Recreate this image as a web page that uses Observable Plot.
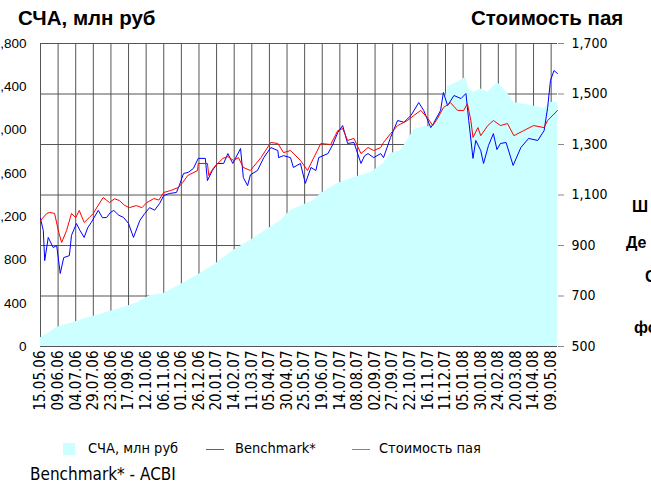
<!DOCTYPE html>
<html><head><meta charset="utf-8">
<script src="https://cdn.jsdelivr.net/npm/d3@7"></script>
<script src="https://cdn.jsdelivr.net/npm/@observablehq/plot@0.6"></script>
<style>
body{margin:0;background:#fff;}
#wrap{position:relative;width:651px;height:485px;overflow:hidden;font-family:"Liberation Sans",Arial,sans-serif;background:#fff;}
#wrap svg{position:absolute;left:0;top:0;}
.t{position:absolute;white-space:nowrap;line-height:1;color:#000;}
.b{font-weight:bold;}
.c{font-family:"DejaVu Sans Condensed","DejaVu Sans",sans-serif;}
</style></head><body><div id="wrap"></div>
<script>
// ---- data ----
const navDates = ["2006-05-15","2006-05-28","2006-06-07","2006-06-25","2006-07-19","2006-08-12","2006-09-04","2006-09-28","2006-10-17","2006-11-06","2006-11-28","2006-12-23","2007-01-16","2007-01-30","2007-02-17","2007-03-09","2007-04-21","2007-05-05","2007-06-07","2007-06-17","2007-07-11","2007-08-03","2007-08-27","2007-09-14","2007-09-24","2007-10-08","2007-10-18","2007-10-27","2007-11-10","2007-11-20","2007-11-30","2007-12-08","2007-12-14","2007-12-28","2008-01-09","2008-01-13","2008-01-20","2008-01-30","2008-02-09","2008-02-23","2008-03-08","2008-03-17","2008-04-10","2008-04-29","2008-05-08","2008-05-18"];
const navValues = [80,130,175,210,260,305,350,400,470,490,565,655,750,820,905,980,1165,1257,1350,1413,1506,1562,1608,1690,1783,1811,1903,2000,2030,2030,2140,2208,2400,2440,2490,2380,2350,2380,2350,2440,2340,2254,2227,2200,2254,2260];

const benchDates = ["2006-05-15","2006-05-19","2006-05-21","2006-05-26","2006-06-02","2006-06-07","2006-06-12","2006-06-17","2006-06-25","2006-06-28","2006-07-05","2006-07-10","2006-07-16","2006-07-21","2006-07-26","2006-08-05","2006-08-11","2006-08-17","2006-08-22","2006-08-27","2006-09-03","2006-09-10","2006-09-17","2006-09-24","2006-10-03","2006-10-10","2006-10-17","2006-10-24","2006-10-31","2006-11-06","2006-11-14","2006-11-24","2006-11-28","2006-12-04","2006-12-11","2006-12-18","2006-12-25","2007-01-04","2007-01-07","2007-01-14","2007-01-21","2007-01-30","2007-02-05","2007-02-12","2007-02-23","2007-02-27","2007-03-05","2007-03-09","2007-03-19","2007-03-28","2007-04-07","2007-04-17","2007-04-18","2007-04-25","2007-05-05","2007-05-09","2007-05-19","2007-05-26","2007-06-03","2007-06-10","2007-06-14","2007-06-27","2007-07-04","2007-07-11","2007-07-18","2007-07-25","2007-08-03","2007-08-13","2007-08-18","2007-08-23","2007-08-31","2007-09-10","2007-09-14","2007-09-24","2007-10-04","2007-10-13","2007-10-23","2007-11-03","2007-11-10","2007-11-20","2007-11-24","2007-12-04","2007-12-08","2007-12-14","2007-12-23","2008-01-02","2008-01-09","2008-01-13","2008-01-19","2008-01-23","2008-01-30","2008-02-03","2008-02-10","2008-02-17","2008-02-22","2008-02-27","2008-03-06","2008-03-16","2008-03-27","2008-04-07","2008-04-20","2008-04-29","2008-05-04","2008-05-08","2008-05-13","2008-05-18"];
const benchValues = [1007,959,840,932,892,900,789,852,860,940,987,960,932,970,991,1039,1010,1011,1030,1039,1020,1011,987,932,999,1027,1050,1040,1066,1098,1106,1110,1137,1185,1190,1205,1245,1245,1157,1197,1225,1225,1264,1225,1284,1169,1137,1180,1197,1248,1288,1276,1248,1256,1248,1209,1225,1146,1209,1197,1248,1264,1300,1347,1375,1304,1308,1225,1255,1264,1248,1264,1248,1328,1395,1388,1415,1466,1435,1367,1383,1435,1506,1454,1494,1482,1502,1395,1245,1316,1276,1225,1296,1343,1280,1304,1308,1217,1288,1324,1316,1355,1446,1553,1593,1581];

const paiDates = ["2006-05-15","2006-05-24","2006-05-28","2006-06-04","2006-06-10","2006-06-14","2006-06-21","2006-06-28","2006-07-04","2006-07-09","2006-07-16","2006-07-23","2006-07-29","2006-08-05","2006-08-12","2006-08-21","2006-08-28","2006-09-04","2006-09-11","2006-09-18","2006-09-28","2006-10-06","2006-10-13","2006-10-23","2006-10-30","2006-11-06","2006-11-16","2006-11-27","2006-12-03","2006-12-10","2006-12-24","2006-12-25","2007-01-07","2007-01-09","2007-01-16","2007-01-29","2007-02-05","2007-02-13","2007-02-20","2007-02-27","2007-03-09","2007-03-24","2007-04-07","2007-04-17","2007-04-25","2007-05-05","2007-05-19","2007-05-29","2007-06-07","2007-06-17","2007-07-01","2007-07-11","2007-07-18","2007-07-25","2007-08-03","2007-08-13","2007-08-23","2007-08-31","2007-09-10","2007-09-14","2007-09-24","2007-10-04","2007-10-18","2007-10-27","2007-11-06","2007-11-16","2007-11-23","2007-11-30","2007-12-08","2007-12-18","2007-12-28","2008-01-06","2008-01-11","2008-01-16","2008-01-19","2008-01-26","2008-01-30","2008-02-09","2008-02-17","2008-02-27","2008-03-08","2008-03-17","2008-03-31","2008-04-14","2008-04-29","2008-05-04","2008-05-18"];
const paiValues = [999,1027,1031,1027,951,912,959,1027,1010,1039,991,1010,1027,1060,1090,1070,1085,1078,1060,1050,1058,1050,1070,1086,1080,1110,1118,1130,1150,1177,1197,1225,1225,1177,1209,1245,1252,1237,1248,1209,1197,1248,1308,1304,1268,1276,1237,1197,1248,1304,1300,1355,1363,1316,1324,1264,1288,1276,1288,1308,1343,1375,1395,1415,1435,1403,1375,1405,1446,1466,1435,1435,1462,1395,1328,1367,1335,1375,1395,1375,1383,1335,1355,1375,1367,1395,1435];

const rightTicks = [500,700,900,1100,1300,1500,1700];
const leftTicks = [0,400,800,1200,1600,2000,2400,2800];
const xStart = "2006-05-15", xEnd = "2008-05-18";

// ---- build ----
const parse = d3.utcParse("%Y-%m-%d");
const toP = v => 500 + v * 1200 / 2800;
const nav = navDates.map((d,i)=>({date:parse(d), value:navValues[i]}));
const bench = benchDates.map((d,i)=>({date:parse(d), value:benchValues[i]}));
const pai = paiDates.map((d,i)=>({date:parse(d), value:paiValues[i]}));
const xTicks = d3.range(30).map(i => d3.utcDay.offset(parse(xStart), 25*i));
const fmt = d3.format(",");
const cond = '"DejaVu Sans Condensed","DejaVu Sans",sans-serif';

const chart = Plot.plot({
  width:651, height:420, marginLeft:40, marginRight:94, marginTop:43, marginBottom:74,
  x:{type:"utc", domain:[parse(xStart), parse(xEnd)]},
  y:{domain:[500,1700]},
  style:{background:"transparent", overflow:"visible"},
  marks:[
    Plot.gridY(rightTicks,{stroke:"#555", strokeOpacity:1}),
    Plot.gridX(xTicks,{stroke:"#555", strokeOpacity:1}),
    Plot.areaY(nav,{x:"date", y1:500, y2:d=>toP(d.value), fill:"#ccffff"}),
    Plot.line(bench,{x:"date", y:"value", stroke:"#0000ff", strokeWidth:1}),
    Plot.line(pai,{x:"date", y:"value", stroke:"#ff0000", strokeWidth:1}),
    Plot.axisY(rightTicks,{anchor:"right", tickSize:6, tickPadding:8, stroke:"#888", tickFormat:fmt, fontSize:14, fontFamily:cond, label:null}),
    Plot.axisY(leftTicks.map(toP),{anchor:"left", tickSize:0, tickPadding:14, tickFormat:d=>fmt(Math.round((d-500)*2800/1200)), fontSize:13.5, fontFamily:"Liberation Sans, Arial, sans-serif", label:null}),
    Plot.axisX(xTicks,{tickRotate:-90, tickSize:0, tickPadding:4, tickFormat:d3.utcFormat("%d.%m.%y"), fontSize:15, fontFamily:cond, label:null})
  ]
});
const wrap = document.getElementById("wrap");
wrap.appendChild(chart);

function addText(txt, left, top, size, cls){
  const el = document.createElement("div");
  el.className = "t " + (cls||"");
  el.textContent = txt;
  el.style.left = left+"px"; el.style.top = top+"px"; el.style.fontSize = size+"px";
  wrap.appendChild(el); return el;
}
function addBox(left, top, w, h, color){
  const el = document.createElement("div");
  el.style.cssText = `position:absolute;left:${left}px;top:${top}px;width:${w}px;height:${h}px;background:${color}`;
  wrap.appendChild(el);
}
addText("СЧА, млн руб", 18, 8, 20.5, "b");
addText("Стоимость пая", 471, 8, 20.5, "b");
addText("Ш", 632, 199, 16, "b");
addText("Де", 626, 235, 16, "b");
addText("С", 645, 269, 16, "b");
addText("фо", 634, 320, 16, "b");
addBox(63, 443, 12, 12, "#ccffff");
addText("СЧА, млн руб", 88, 441, 14.5, "c");
addBox(206, 449, 18, 1, "#5050ff");
addText("Benchmark*", 235, 441, 14.5, "c");
addBox(352, 449, 18, 1, "#ff5050");
addText("Стоимость пая", 379, 441, 14.5, "c");
addText("Benchmark* - ACBI", 30, 466, 17, "c");
</script></body></html>
